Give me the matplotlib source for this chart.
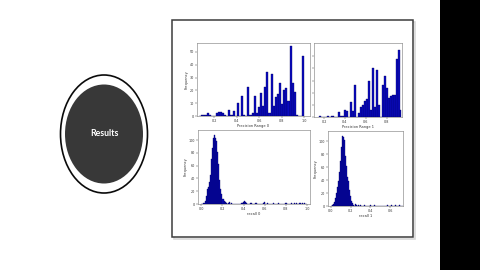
import numpy as np
import matplotlib
matplotlib.use("Agg")
import matplotlib.pyplot as plt
from matplotlib.patches import Ellipse, Rectangle

# ---------------- data ----------------
tl_edges_range = (0.06, 1.0)
tl_counts = [0, 1, 1, 1, 2, 1, 0, 0, 2, 3, 3, 2, 1, 0, 5, 1, 4, 0, 10, 0,
             16, 1, 0, 23, 1, 2, 16, 2, 7, 18, 8, 23, 34, 2, 33, 8, 15, 17, 26, 9,
             20, 22, 12, 55, 26, 19, 1, 0, 0, 47]

tr_edges_range = (0.15, 0.94)
tr_counts = [1, 0, 0, 0, 1, 0, 1, 1, 0, 0, 4, 1, 1, 6, 5, 0, 12, 5, 26, 0,
             3, 8, 10, 13, 15, 30, 6, 40, 8, 39, 10, 0, 26, 34, 24, 16, 17, 18, 18, 48,
             55, 6]

bl_centers = [0.025, 0.035, 0.045, 0.055, 0.065, 0.075, 0.085, 0.095, 0.105, 0.115,
              0.125, 0.135, 0.145, 0.155, 0.165, 0.175, 0.185, 0.195, 0.205, 0.215,
              0.225, 0.235, 0.255, 0.265, 0.285, 0.385, 0.395, 0.405, 0.415, 0.425,
              0.465, 0.475, 0.515, 0.525, 0.585, 0.595, 0.625, 0.685, 0.735, 0.795,
              0.805, 0.855, 0.885, 0.905, 0.935, 0.955, 0.975]
bl_counts = [2, 5, 12, 24, 26, 35, 45, 70, 88, 103,
             108, 104, 98, 82, 62, 38, 24, 16, 8, 5,
             3, 2, 2, 3, 1, 2, 3, 4, 3, 2,
             1, 2, 2, 1, 2, 3, 1, 1, 1, 2,
             2, 1, 1, 2, 1, 2, 1]

br_centers = [0.015, 0.025, 0.035, 0.045, 0.055, 0.065, 0.075, 0.085, 0.095, 0.105,
              0.115, 0.125, 0.135, 0.145, 0.155, 0.165, 0.175, 0.185, 0.195, 0.205,
              0.215, 0.225, 0.245, 0.255, 0.285, 0.305, 0.345, 0.405, 0.445, 0.575,
              0.615, 0.655, 0.695]
br_counts = [1, 3, 6, 12, 20, 30, 38, 52, 70, 92,
             108, 106, 102, 78, 62, 45, 38, 25, 16, 8,
             5, 2, 3, 2, 1, 1, 1, 1, 1, 1,
             1, 1, 1]

tl_xticks = [0.2, 0.4, 0.6, 0.8, 1.0]
tr_xticks = [0.2, 0.4, 0.6, 0.8]
bl_xticks = [0.0, 0.2, 0.4, 0.6, 0.8, 1.0]
br_xticks = [0.0, 0.2, 0.4, 0.6]
top_yticks = [0, 10, 20, 30, 40, 50]
bot_yticks = [0, 20, 40, 60, 80, 100]

labels = ["Precision Range 0", "Precision Range 1", "recall 0", "recall 1"]

# ---------------- figure ----------------
W, H = 480, 270
fig = plt.figure(figsize=(4.8, 2.7), dpi=100)
fig.patch.set_facecolor("white")

bg = fig.add_axes([0, 0, 1, 1], zorder=0)
bg.set_xlim(0, W)
bg.set_ylim(H, 0)
bg.axis("off")

# circle graphic
bg.add_patch(Ellipse((104, 134), 87, 118, facecolor="white", edgecolor="#0a0a0a", lw=1.2))
bg.add_patch(Ellipse((104, 134), 78, 99, facecolor="#383838", edgecolor="none"))
bg.text(104, 134, "Results", color="white", fontsize=6.3, fontweight="bold",
        family="Lato", ha="center", va="center")

# frame around charts
bg.add_patch(Rectangle((173.5, 21.5), 241, 217, facecolor="none", edgecolor="#d8d8d8", lw=1.2))
bg.add_patch(Rectangle((172, 20), 241, 217, facecolor="white", edgecolor="#3c3c3c", lw=1.1))

# black bar on the right
bg.add_patch(Rectangle((440, 0), 40, 270, facecolor="black", edgecolor="none"))


def axes_px(left, top, right, bottom):
    return fig.add_axes([left / W, 1 - bottom / H, (right - left) / W, (bottom - top) / H], zorder=2)


BAR = "#0a0ac0"
EDGE = "#00005a"


def style(ax, xlabel, xticks, yticks, ylab=True, yticklabels=True):
    ax.set_xticks(xticks)
    ax.set_xticklabels([f"{t:.1f}" for t in xticks])
    ax.set_yticks(yticks)
    if not yticklabels:
        ax.set_yticklabels([])
    ax.tick_params(labelsize=2.4, length=1.2, width=0.3, pad=0.8, colors="#333333")
    for s in ax.spines.values():
        s.set_linewidth(0.4)
        s.set_color("#777777")
    ax.set_xlabel(xlabel, fontsize=2.6, labelpad=0.8, color="#333333")
    if ylab:
        ax.set_ylabel("Frequency", fontsize=2.6, labelpad=1.0, color="#333333")


# top-left
ax1 = axes_px(197, 43, 310, 116)
e1 = np.linspace(tl_edges_range[0], tl_edges_range[1], len(tl_counts) + 1)
c1 = (e1[:-1] + e1[1:]) / 2
ax1.hist(c1, bins=e1, weights=tl_counts, color=BAR, edgecolor=EDGE, lw=0.25)
ax1.set_xlim(0.045, 1.05)
ax1.set_ylim(0, 57)
style(ax1, labels[0], tl_xticks, top_yticks)

# top-right
ax2 = axes_px(314, 43, 402, 117)
e2 = np.linspace(tr_edges_range[0], tr_edges_range[1], len(tr_counts) + 1)
c2 = (e2[:-1] + e2[1:]) / 2
ax2.hist(c2, bins=e2, weights=tr_counts, color=BAR, edgecolor=EDGE, lw=0.25)
ax2.set_xlim(0.105, 0.945)
ax2.set_ylim(0, 61)
style(ax2, labels[1], tr_xticks, top_yticks, ylab=False, yticklabels=False)

# bottom-left
ax3 = axes_px(198, 130, 310, 204)
e3 = np.linspace(0.0, 1.0, 101)
ax3.hist(bl_centers, bins=e3, weights=bl_counts, color=BAR, edgecolor=EDGE, lw=0.25)
ax3.set_xlim(-0.032, 1.03)
ax3.set_ylim(0, 116)
style(ax3, labels[2], bl_xticks, bot_yticks)

# bottom-right
ax4 = axes_px(328, 131, 403, 206)
e4 = np.linspace(0.0, 0.73, 74)
ax4.hist(br_centers, bins=e4, weights=br_counts, color=BAR, edgecolor=EDGE, lw=0.25)
ax4.set_xlim(-0.027, 0.728)
ax4.set_ylim(0, 116)
style(ax4, labels[3], br_xticks, bot_yticks)

fig.savefig("out.png", dpi=100, facecolor="white")
